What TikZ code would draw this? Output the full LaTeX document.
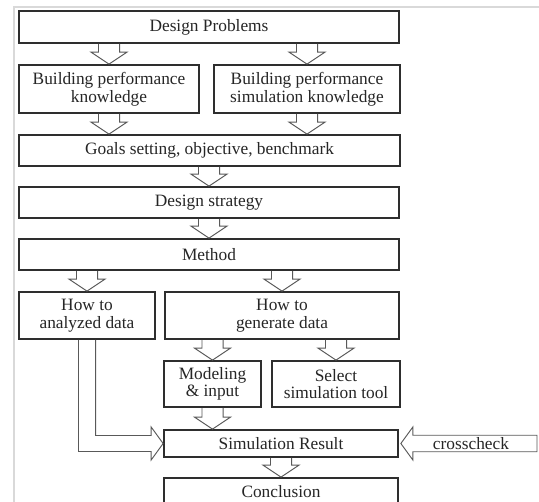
\documentclass[tikz,border=0pt]{standalone}
\usepackage{fontspec}
\setmainfont{Liberation Serif}
\usetikzlibrary{calc}
\tikzset{
  box/.style={draw=black!82, line width=1.3pt, fill=white, align=center, inner sep=0pt,
    font=\fontsize{13}{13.2}\selectfont, text=black!85},
  blk/.style={draw=black!65, line width=0.7pt, line join=miter},
  frameline/.style={draw=black!15, line width=1.5pt},
}
\newcommand\blkdown[2]{\draw[blk] let \p1=#1, \p2=#2 in
  (\x1-7.9pt,\y1) -- (\x1-7.9pt,\y2+9pt) -- (\x1-13.5pt,\y2+9pt) -- (\x1,\y2)
  -- (\x1+13.5pt,\y2+9pt) -- (\x1+7.9pt,\y2+9pt) -- (\x1+7.9pt,\y1);}
\begin{document}
\begin{tikzpicture}[x=0.75pt,y=-0.75pt]
\useasboundingbox (0,0) rectangle (539,502);
\draw[frameline] (14,502) -- (14,7) -- (539,7);

\node[box, minimum width=380*0.75pt, minimum height=32*0.75pt] (dp) at (209,27) {Design Problems};
\node[box, minimum width=180*0.75pt, minimum height=48*0.75pt] (bpk) at (109,89) {Building performance\\knowledge};
\node[box, minimum width=186*0.75pt, minimum height=48*0.75pt] (bpsk) at (307,89) {Building performance\\simulation knowledge};
\node[box, minimum width=381*0.75pt, minimum height=31*0.75pt] (goals) at (209.5,150.5) {Goals setting, objective, benchmark};
\node[box, minimum width=380*0.75pt, minimum height=31*0.75pt] (ds) at (209,202.5) {Design strategy};
\node[box, minimum width=380*0.75pt, minimum height=31*0.75pt] (method) at (209,254.5) {Method};
\node[box, minimum width=136*0.75pt, minimum height=47*0.75pt] (hta) at (87,315.5) {How to\\analyzed data};
\node[box, minimum width=234*0.75pt, minimum height=47*0.75pt] (htg) at (282,315.5) {How to\\generate data};
\node[box, minimum width=97*0.75pt, minimum height=46*0.75pt] (mod) at (212.5,384) {Modeling\\\& input};
\node[box, minimum width=128*0.75pt, minimum height=46*0.75pt] (sel) at (336,384) {Select\\simulation tool};
\node[box, minimum width=234*0.75pt, minimum height=27*0.75pt] (sr) at (281,443.5) {Simulation Result};
\node[box, minimum width=234*0.75pt, minimum height=28*0.75pt] (con) at (281,492) {Conclusion};

\blkdown{(dp.south -| bpk)}{(bpk.north)}
\blkdown{(dp.south -| bpsk)}{(bpsk.north)}
\blkdown{(bpk.south)}{(bpk.south |- goals.north)}
\blkdown{(bpsk.south)}{(bpsk.south |- goals.north)}
\blkdown{(goals.south -| ds)}{(ds.north)}
\blkdown{(ds.south)}{(method.north)}
\blkdown{(method.south -| hta)}{(hta.north)}
\blkdown{(method.south -| htg)}{(htg.north)}
\blkdown{(htg.south -| mod)}{(mod.north)}
\blkdown{(htg.south -| sel)}{(sel.north)}
\blkdown{(mod.south)}{(mod.south |- sr.north)}
\blkdown{(sr.south)}{(con.north)}

% bent arrow from "How to analyzed data" to "Simulation Result"
\draw[blk] let \p1=(hta.south), \p2=(sr.west) in
  (\x1-6.4pt,\y1) -- (\x1-6.4pt,\y2-6pt) -- (\x2-9pt,\y2-6pt) -- (\x2-9pt,\y2-12.4pt)
  -- (\x2,\y2) -- (\x2-9pt,\y2+12.4pt) -- (\x2-9pt,\y2+6pt) -- (\x1+6.4pt,\y2+6pt)
  -- (\x1+6.4pt,\y1);

% crosscheck arrow
\coordinate (ccend) at (537,443.5);
\draw[blk] let \p1=(sr.east), \p2=(ccend) in
  (\x1+1.5pt,\y1) -- (\x1+10.5pt,\y1+12.4pt) -- (\x1+10.5pt,\y1+6.2pt) -- (\x2,\y1+6.2pt)
  -- (\x2,\y1-6.2pt) -- (\x1+10.5pt,\y1-6.2pt) -- (\x1+10.5pt,\y1-12.4pt) -- cycle;
\node[font=\fontsize{13}{13}\selectfont, text=black!85, inner sep=0pt] (cc) at (471,443.5) {crosscheck};
\end{tikzpicture}
\end{document}
